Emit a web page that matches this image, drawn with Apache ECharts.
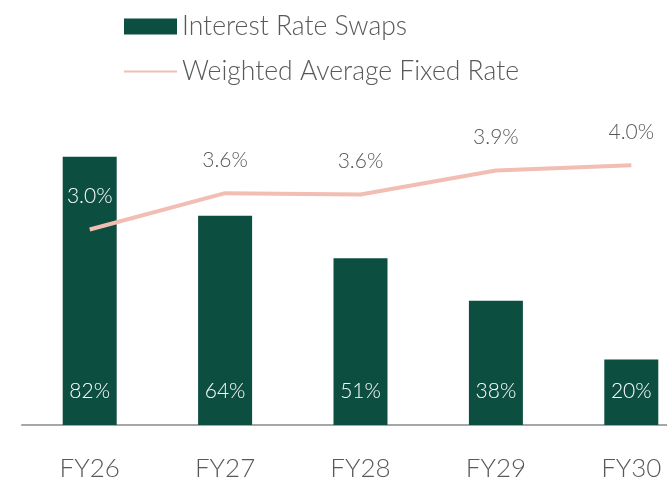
<!DOCTYPE html>
<html><head><meta charset="utf-8">
<script src="https://cdn.jsdelivr.net/npm/echarts@6/dist/echarts.min.js"></script>
<style>html,body{margin:0;padding:0;background:#fff}#c{width:667px;height:479px}</style>
</head><body><div id="c"></div>
<script>
const categories = ['FY26','FY27','FY28','FY29','FY30'];
const swapPct = [82, 64, 51, 38, 20];
const fixedRate = [3.02, 3.58, 3.56, 3.93, 4.01];
const seriesNames = ['Interest Rate Swaps', 'Weighted Average Fixed Rate'];

const FONT = 'Lato';
const chart = echarts.init(document.getElementById('c'));
chart.setOption({
  animation: false,
  textStyle: {fontFamily: FONT},
  legend: {
    orient: 'vertical', left: 118, top: 8, itemGap: 18,
    itemWidth: 53, itemHeight: 16,
    textStyle: {fontSize: 26.5, color: '#595959', fontFamily: FONT, fontWeight: 300},
    data: [{name: seriesNames[0], icon: 'rect'}, {name: seriesNames[1]}]
  },
  grid: {left: 22, right: -32, top: 98, bottom: 54, containLabel: false, outerBoundsMode: 'none'},
  xAxis: {
    type: 'category', data: categories,
    axisLine: {lineStyle: {color: '#a6a6a6', width: 2}},
    axisTick: {show: false},
    axisLabel: {fontSize: 26, color: '#595959', margin: 31, fontFamily: FONT, fontWeight: 300}
  },
  yAxis: [
    {type: 'value', min: 0, max: 100, show: false, splitLine: {show: false}},
    {type: 'value', min: 0, max: 5.05, show: false, splitLine: {show: false}}
  ],
  series: [
    {
      name: seriesNames[0], type: 'bar', data: swapPct, barWidth: 54,
      itemStyle: {color: '#0c4e40'},
      label: {show: true, position: 'insideBottom', distance: 23, color: '#ffffff', fontSize: 21, fontFamily: FONT, fontWeight: 300,
        formatter: p => p.value + '%'}
    },
    {
      name: seriesNames[1], type: 'line', yAxisIndex: 1,
      data: fixedRate.map((v, i) => i === 0 ? {value: v, label: {color: '#ffffff'}} : v),
      symbol: 'circle', symbolSize: 1, showSymbol: true,
      lineStyle: {color: '#f2bdb3', width: 4}, itemStyle: {color: 'rgba(0,0,0,0)'},
      label: {show: true, position: 'top', distance: 22, color: '#595959', fontSize: 21, fontFamily: FONT, fontWeight: 300,
        formatter: p => p.value.toFixed(1) + '%'}
    }
  ]
});
</script></body></html>
